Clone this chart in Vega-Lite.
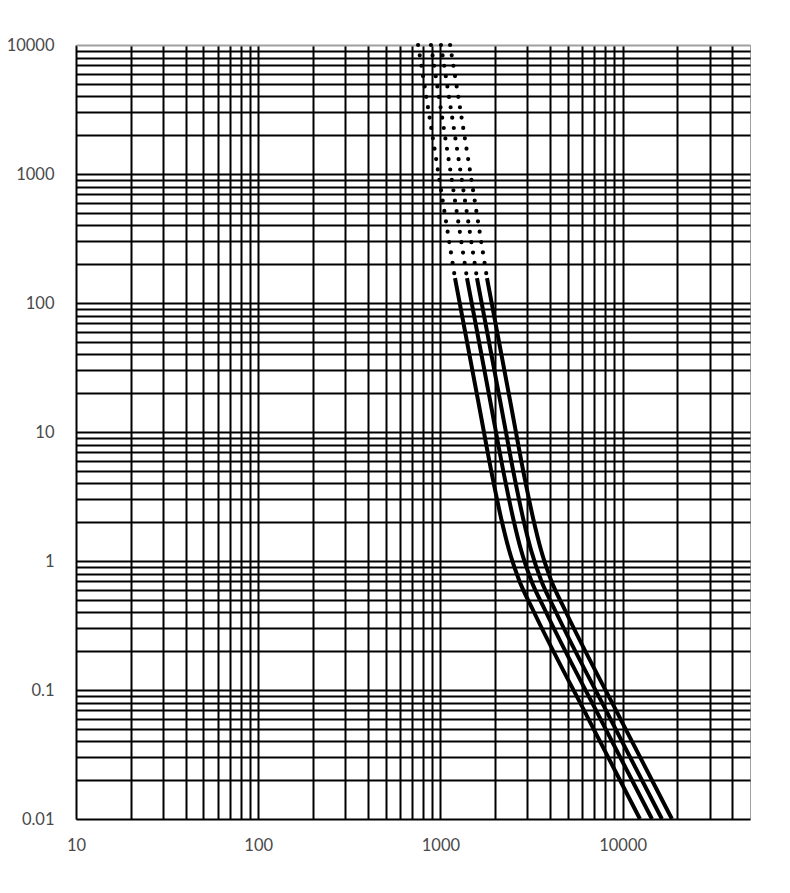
{
  "$schema": "https://vega.github.io/schema/vega-lite/v6.json",
  "autosize": {"type": "none"},
  "width": 674,
  "height": 774,
  "padding": {"left": 76, "top": 45, "right": 40, "bottom": 74},
  "background": "white",
  "config": {
    "view": {"stroke": "#a0a0a0", "strokeWidth": 1},
    "axis": {
      "labelFont": "Lato",
      "labelFontSize": 16.5,
      "labelColor": "#4a4a4a",
      "ticks": false,
      "domain": false,
      "labelOverlap": false,
      "labelFlush": false,
      "labelBound": false,
      "title": null,
      "gridOpacity": 1
    }
  },
  "data": {
    "values": [
      {"curve": "A", "part": "dot", "x": 754, "y": 10000},
      {"curve": "A", "part": "dot", "x": 1202, "y": 156},
      {"curve": "B", "part": "dot", "x": 887, "y": 10000},
      {"curve": "B", "part": "dot", "x": 1399, "y": 156},
      {"curve": "C", "part": "dot", "x": 1007, "y": 10000},
      {"curve": "C", "part": "dot", "x": 1587, "y": 156},
      {"curve": "D", "part": "dot", "x": 1130, "y": 10000},
      {"curve": "D", "part": "dot", "x": 1801, "y": 156},

      {"curve": "A", "part": "solid", "x": 1202, "y": 156},
      {"curve": "A", "part": "solid", "x": 1608, "y": 17.7},
      {"curve": "A", "part": "solid", "x": 1944, "y": 4.25},
      {"curve": "A", "part": "solid", "x": 2164, "y": 2.08},
      {"curve": "A", "part": "solid", "x": 2380, "y": 1.216},
      {"curve": "A", "part": "solid", "x": 2700, "y": 0.713},
      {"curve": "A", "part": "solid", "x": 3221, "y": 0.417},
      {"curve": "A", "part": "solid", "x": 6540, "y": 0.0585},
      {"curve": "A", "part": "solid", "x": 12445, "y": 0.01},

      {"curve": "B", "part": "solid", "x": 1399, "y": 156},
      {"curve": "B", "part": "solid", "x": 1872, "y": 17.7},
      {"curve": "B", "part": "solid", "x": 2263, "y": 4.25},
      {"curve": "B", "part": "solid", "x": 2519, "y": 2.08},
      {"curve": "B", "part": "solid", "x": 2770, "y": 1.216},
      {"curve": "B", "part": "solid", "x": 3143, "y": 0.713},
      {"curve": "B", "part": "solid", "x": 3749, "y": 0.417},
      {"curve": "B", "part": "solid", "x": 7613, "y": 0.0585},
      {"curve": "B", "part": "solid", "x": 14486, "y": 0.01},

      {"curve": "C", "part": "solid", "x": 1587, "y": 156},
      {"curve": "C", "part": "solid", "x": 2123, "y": 17.7},
      {"curve": "C", "part": "solid", "x": 2566, "y": 4.25},
      {"curve": "C", "part": "solid", "x": 2856, "y": 2.08},
      {"curve": "C", "part": "solid", "x": 3142, "y": 1.216},
      {"curve": "C", "part": "solid", "x": 3564, "y": 0.713},
      {"curve": "C", "part": "solid", "x": 4252, "y": 0.417},
      {"curve": "C", "part": "solid", "x": 8633, "y": 0.0585},
      {"curve": "C", "part": "solid", "x": 16427, "y": 0.01},

      {"curve": "D", "part": "solid", "x": 1801, "y": 156},
      {"curve": "D", "part": "solid", "x": 2409, "y": 17.7},
      {"curve": "D", "part": "solid", "x": 2912, "y": 4.25},
      {"curve": "D", "part": "solid", "x": 3242, "y": 2.08},
      {"curve": "D", "part": "solid", "x": 3565, "y": 1.216},
      {"curve": "D", "part": "solid", "x": 4045, "y": 0.713},
      {"curve": "D", "part": "solid", "x": 4825, "y": 0.417},
      {"curve": "D", "part": "solid", "x": 9797, "y": 0.0585},
      {"curve": "D", "part": "solid", "x": 18643, "y": 0.01}
    ]
  },
  "encoding": {
    "x": {
      "field": "x",
      "type": "quantitative",
      "scale": {"type": "log", "domain": [10, 50000], "nice": false},
      "axis": {
        "values": [10, 20, 30, 40, 50, 60, 70, 80, 90, 100, 200, 300, 400, 500, 600, 700, 800, 900, 1000, 2000, 3000, 4000, 5000, 6000, 7000, 8000, 9000, 10000, 20000, 30000, 40000],
        "labelExpr": "indexof([10, 100, 1000, 10000], datum.value) >= 0 ? datum.value + '' : ''",
        "labelPadding": 18,
        "gridWidth": 2,
        "gridColor": "#000000"
      }
    },
    "y": {
      "field": "y",
      "type": "quantitative",
      "scale": {"type": "log", "domain": [0.01, 10000], "nice": false},
      "axis": {
        "values": [0.01, 0.02, 0.03, 0.04, 0.05, 0.06, 0.07, 0.08, 0.09, 0.1, 0.2, 0.3, 0.4, 0.5, 0.6, 0.7, 0.8, 0.9, 1, 2, 3, 4, 5, 6, 7, 8, 9, 10, 20, 30, 40, 50, 60, 70, 80, 90, 100, 200, 300, 400, 500, 600, 700, 800, 900, 1000, 2000, 3000, 4000, 5000, 6000, 7000, 8000, 9000, 10000],
        "labelExpr": "indexof([0.01, 0.1, 1, 10, 100, 1000, 10000], datum.value) >= 0 ? datum.value + '' : ''",
        "labelPadding": 22,
        "gridWidth": 2,
        "gridColor": {"condition": {"test": "datum.value == 10000", "value": "#a0a0a0"}, "value": "#000000"}
      }
    },
    "detail": {"field": "curve"}
  },
  "layer": [
    {
      "transform": [{"filter": "datum.part == 'dot'"}],
      "mark": {"type": "line", "color": "#000000", "strokeWidth": 4.2, "strokeDash": [0, 10.5], "strokeCap": "round"}
    },
    {
      "transform": [{"filter": "datum.part == 'solid'"}],
      "mark": {"type": "line", "color": "#000000", "strokeWidth": 4, "interpolate": "monotone"}
    }
  ]
}
